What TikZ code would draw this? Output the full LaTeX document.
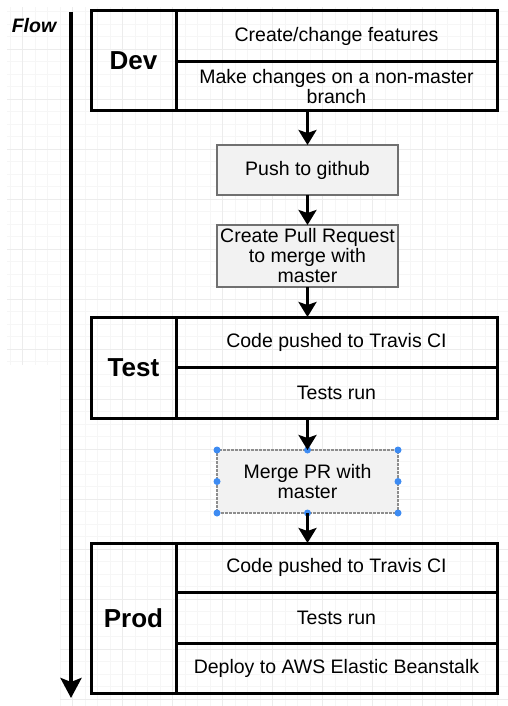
\documentclass[tikz,border=0pt]{standalone}
\usepackage{fontspec}
\setmainfont{Liberation Sans}
\usetikzlibrary{positioning,arrows.meta}

\definecolor{gridminor}{HTML}{F6F6F6}
\definecolor{gridmajor}{HTML}{ECECEC}
\definecolor{actionfill}{HTML}{F2F2F2}
\definecolor{actionline}{HTML}{707070}
\definecolor{selblue}{HTML}{3D8BF2}

\tikzset{
  stage/.style={draw, line width=3pt, outer sep=0pt, minimum width=85pt,
    font=\fontsize{26}{30}\selectfont\bfseries},
  task/.style={draw, line width=3pt, outer sep=0pt, minimum width=321pt,
    align=center, inner sep=1pt, font=\fontsize{19.5}{20}\selectfont},
  action/.style={draw=actionline, fill=actionfill, line width=2pt, outer sep=0pt,
    minimum width=181pt, align=center, inner sep=1pt,
    font=\fontsize{19.5}{20}\selectfont},
  link/.style={line width=3pt, -{Stealth[length=15pt,width=18pt,inset=3pt]}},
  selhandle/.style={circle, fill=selblue, inner sep=0pt, minimum size=7pt}
}

\begin{document}
\begin{tikzpicture}[x=1pt,y=-1pt]
    \useasboundingbox (0,0) rectangle (508,706);

    % background grid
    \begin{scope}[shift={(22.5,-1)}]
    \draw[gridminor, line width=0.6pt, step=12.5pt] (-15.5,8) grid (485.5,366);
    \draw[gridmajor, line width=0.8pt, step=50pt] (-15.5,8) grid (485.5,366);
    \draw[gridminor, line width=0.6pt, step=12.5pt] (37.5,366) grid (485.5,707);
    \draw[gridmajor, line width=0.8pt, step=50pt] (37.5,366) grid (485.5,707);
    \end{scope}

    % flow axis
    \node[font=\fontsize{19.5}{20}\selectfont\bfseries\itshape] (flowlabel) at (34,26) {Flow};
    \coordinate (flowtop) at (71,12);
    \coordinate (flowend) at (71,698);
    \draw[line width=4pt, -{Stealth[length=20pt,width=21pt,inset=4pt]}] (flowtop) -- (flowend);

    % Dev
    \node[stage, minimum height=100pt] (dev) at (133.5,61) {Dev};
    \node[task, minimum height=51pt, right=0pt of dev.north east, anchor=north west] (devtop) {Create/change features};
    \node[task, minimum height=49pt, below=0pt of devtop] (devbot) {Make changes on a non-master\\branch};

    \node[action, minimum height=50pt] (push) at (307.5,170) {Push to github};
    \node[action, minimum height=62pt] (pr) at (307.5,256) {Create Pull Request\\to merge with\\master};

    % Test
    \node[stage, minimum height=101pt] (test) at (133.5,367.5) {Test};
    \node[task, minimum height=50pt, right=0pt of test.north east, anchor=north west] (testtop) {Code pushed to Travis CI};
    \node[task, minimum height=51pt, below=0pt of testtop] (testbot) {Tests run};

    \node[action, draw=actionline!80, dash pattern=on 3pt off 1pt, line width=1.5pt, minimum height=63pt] (merge) at (307.5,481.5) {Merge PR with\\master};
    \foreach \a in {north west,north,north east,east,south east,south,south west,west}
      \node[selhandle] at (merge.\a) {};

    % Prod
    \node[stage, minimum height=150pt] (prod) at (133.5,618) {Prod};
    \node[task, minimum height=49pt, right=0pt of prod.north east, anchor=north west] (prodtop) {Code pushed to Travis CI};
    \node[task, minimum height=51pt, below=0pt of prodtop] (prodmid) {Tests run};
    \node[task, minimum height=50pt, below=0pt of prodmid] (prodbot) {Deploy to AWS Elastic Beanstalk};

    \draw[link] (devbot.south -| push.north) -- (push.north);
    \draw[link] (push) -- (pr);
    \draw[link] (pr.south) -- (testtop.north -| pr.south);
    \draw[link] (testbot.south -| merge.north) -- (merge.north);
    \draw[link] (merge.south) -- (prodtop.north -| merge.south);
\end{tikzpicture}
\end{document}
